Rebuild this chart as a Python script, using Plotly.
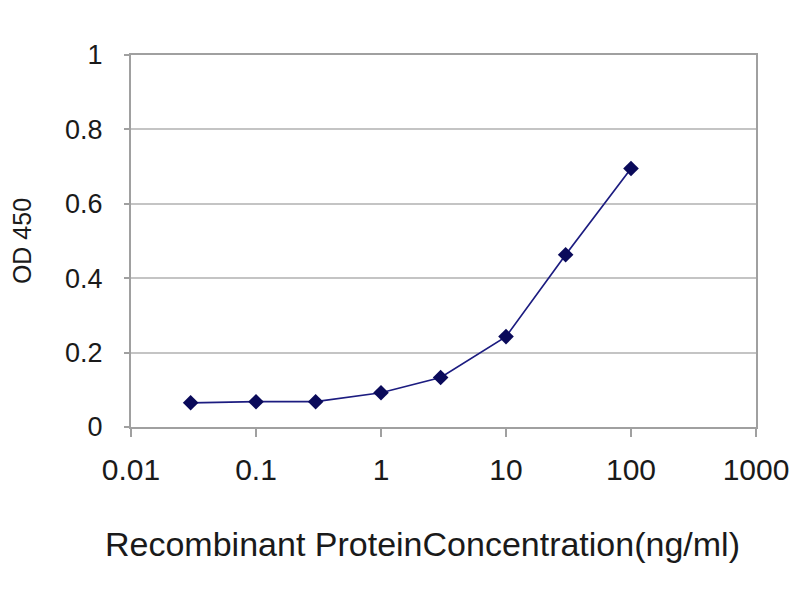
import plotly.graph_objects as go

# Concentration (ng/ml) and OD 450 readings
concentration = [0.03, 0.1, 0.3, 1, 3, 10, 30, 100]
od450 = [0.065, 0.068, 0.068, 0.092, 0.133, 0.243, 0.463, 0.695]

x_ticks = [0.01, 0.1, 1, 10, 100, 1000]
x_tick_labels = ["0.01", "0.1", "1", "10", "100", "1000"]
y_ticks = [0, 0.2, 0.4, 0.6, 0.8, 1]
y_tick_labels = ["0", "0.2", "0.4", "0.6", "0.8", "1"]

x_title = "Recombinant ProteinConcentration(ng/ml)"
y_title = "OD 450"

fig = go.Figure()

fig.add_trace(go.Scatter(
    x=concentration,
    y=od450,
    mode="lines+markers",
    line=dict(color="#1c1c80", width=1.7),
    marker=dict(symbol="diamond", size=12, color="#0a0a5a"),
    showlegend=False
))

# x title sits a little left of the plot centre in the original
fig.add_annotation(
    text=x_title,
    xref="paper", yref="paper",
    x=0.466, y=-0.315,
    xanchor="center", yanchor="middle",
    showarrow=False,
    font=dict(size=34, family="Liberation Sans, Arial", color="#1a1a1a"),
)

fig.update_layout(
    width=800,
    height=600,
    margin=dict(l=123, r=52, t=47, b=181),
    paper_bgcolor="white",
    plot_bgcolor="white",
    font=dict(family="Liberation Sans, Arial", color="#1a1a1a"),
    xaxis=dict(
        type="log",
        range=[-2, 3],
        tickvals=x_ticks,
        ticktext=x_tick_labels,
        ticks="outside",
        ticklen=8,
        tickcolor="#a0a0a0",
        tickwidth=1.5,
        tickfont=dict(size=30),
        ticklabelstandoff=7,
        showgrid=False,
        showline=True,
        linecolor="#a0a0a0",
        linewidth=2,
        mirror=True,
        zeroline=False,
        automargin=False,
    ),
    yaxis=dict(
        range=[0, 1],
        tickvals=y_ticks,
        ticktext=y_tick_labels,
        ticks="outside",
        ticklen=5,
        tickcolor="#a0a0a0",
        tickwidth=1.5,
        tickfont=dict(size=27),
        ticklabelstandoff=16,
        showgrid=True,
        gridcolor="#c4c4c4",
        gridwidth=1.5,
        showline=True,
        linecolor="#a0a0a0",
        linewidth=2,
        mirror=True,
        zeroline=False,
        automargin=False,
        title=dict(text=y_title, font=dict(size=25), standoff=40),
    ),
)

fig.write_html("out.html")
